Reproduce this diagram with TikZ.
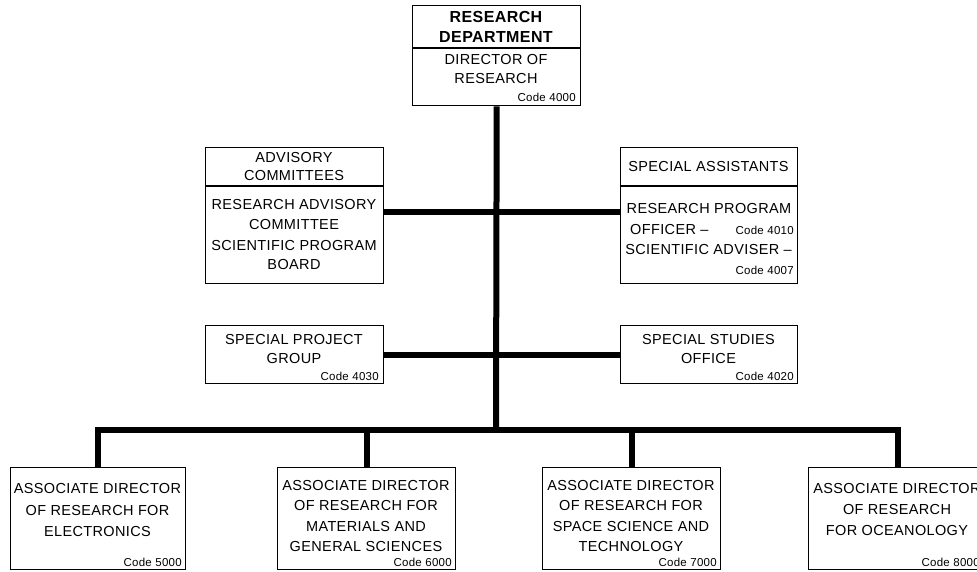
\documentclass[tikz,border=0pt]{standalone}
\usepackage{fontspec}
\setmainfont{Liberation Sans}[LetterSpace=2.5]
\tikzset{
  unit/.style={draw, line width=1.4pt, rectangle, inner sep=0pt, anchor=north west},
  lbl/.style={font=\fontsize{14.5}{17}\selectfont, inner sep=0pt, anchor=center},
  head/.style={font=\fontsize{16}{19}\selectfont\bfseries, inner sep=0pt, anchor=center},
  code/.style={font=\fontsize{11.5}{13}\selectfont, inner sep=0pt, anchor=east},
  conn/.style={line width=6pt},
  rule/.style={line width=1.4pt},
}
% \orgbox{name}{left}{top}{right}{bottom}
\newcommand\orgbox[5]{\node[unit, minimum width={(#4-#2)*1pt}, minimum height={(#5-#3)*1pt}] (#1) at (#2,#3) {};}
\begin{document}
\begin{tikzpicture}[x=1pt, y=-1pt]
\clip (0,0) rectangle (977,571);
\fill[white] (0,0) rectangle (977,571);

% boxes
\orgbox{dir}{412}{5}{580}{105}
\orgbox{adv}{205}{147}{383}{283}
\orgbox{asst}{620}{147}{797}{283}
\orgbox{spg}{205}{325}{383}{383}
\orgbox{sso}{620}{325}{797}{383}
\orgbox{ad1}{10}{467}{185}{569}
\orgbox{ad2}{277}{467}{455}{569}
\orgbox{ad3}{542}{467}{720}{569}
\orgbox{ad4}{808}{467}{986}{569}

% header dividers
\coordinate (hdDir) at (0,48);
\coordinate (hdSide) at (0,186);
\draw[rule] (dir.west |- hdDir) -- (dir.east |- hdDir);
\draw[rule] (adv.west |- hdSide) -- (adv.east |- hdSide);
\draw[rule] (asst.west |- hdSide) -- (asst.east |- hdSide);

% connectors
\coordinate (trunk) at (496,430);
\coordinate (staff) at (496,212);
\draw[conn] (dir.south) -- (trunk);
\draw[conn] (adv.east |- staff) -- (asst.west |- staff);
\draw[conn] (spg.east) -- (sso.west);
\draw[conn, line join=miter] (ad1.north) -- (ad1.north |- trunk) -- (ad4.north |- trunk) -- (ad4.north);
\draw[conn] (ad2.north |- trunk) -- (ad2.north);
\draw[conn] (ad3.north |- trunk) -- (ad3.north);

% director
\node[head] (d1) at (496,17) {RESEARCH};
\node[head] (d2) at (496,37) {DEPARTMENT};
\node[lbl] (d3) at (496,60) {DIRECTOR OF};
\node[lbl] (d4) at (496,79) {RESEARCH};
\node[code] (d5) at (576,97) {Code 4000};

% advisory committees
\node[lbl] (a1) at (294,158) {ADVISORY};
\node[lbl] (a2) at (294,176) {COMMITTEES};
\node[lbl] (a3) at (294,205) {RESEARCH ADVISORY};
\node[lbl] (a4) at (294,225) {COMMITTEE};
\node[lbl] (a5) at (294,246) {SCIENTIFIC PROGRAM};
\node[lbl] (a6) at (294,265) {BOARD};

% special assistants
\node[lbl] (s1) at (708.5,167) {SPECIAL ASSISTANTS};
\node[lbl] (s2) at (709,209) {RESEARCH PROGRAM};
\node[lbl, anchor=west] (s3) at (630,230) {OFFICER --};
\node[code] (s4) at (794,230) {Code 4010};
\node[lbl] (s5) at (708.5,250) {SCIENTIFIC ADVISER --};
\node[code] (s6) at (794,270) {Code 4007};

% special project group / special studies office
\node[lbl] (p1) at (294,340) {SPECIAL PROJECT};
\node[lbl] (p2) at (294,359) {GROUP};
\node[code] (p3) at (379,376) {Code 4030};
\node[lbl] (o1) at (708.5,340) {SPECIAL STUDIES};
\node[lbl] (o2) at (708.5,359) {OFFICE};
\node[code] (o3) at (794,376) {Code 4020};

% associate directors
\node[lbl] (e1) at (97.5,488) {ASSOCIATE DIRECTOR};
\node[lbl] (e2) at (97.5,510) {OF RESEARCH FOR};
\node[lbl] (e3) at (97.5,531) {ELECTRONICS};
\node[code] (e4) at (182,562) {Code 5000};

\node[lbl] (m1) at (366,485) {ASSOCIATE DIRECTOR};
\node[lbl] (m2) at (366,505) {OF RESEARCH FOR};
\node[lbl] (m3) at (366,526) {MATERIALS AND};
\node[lbl] (m4) at (366,546) {GENERAL SCIENCES};
\node[code] (m5) at (452,562) {Code 6000};

\node[lbl] (t1) at (631,485) {ASSOCIATE DIRECTOR};
\node[lbl] (t2) at (631,505) {OF RESEARCH FOR};
\node[lbl] (t3) at (631,526) {SPACE SCIENCE AND};
\node[lbl] (t4) at (631,546) {TECHNOLOGY};
\node[code] (t5) at (717,562) {Code 7000};

\node[lbl] (c1) at (897,488) {ASSOCIATE DIRECTOR};
\node[lbl] (c2) at (897,509) {OF RESEARCH};
\node[lbl] (c3) at (897,530) {FOR OCEANOLOGY};
\node[code] (c4) at (980,562) {Code 8000};
\end{tikzpicture}
\end{document}
